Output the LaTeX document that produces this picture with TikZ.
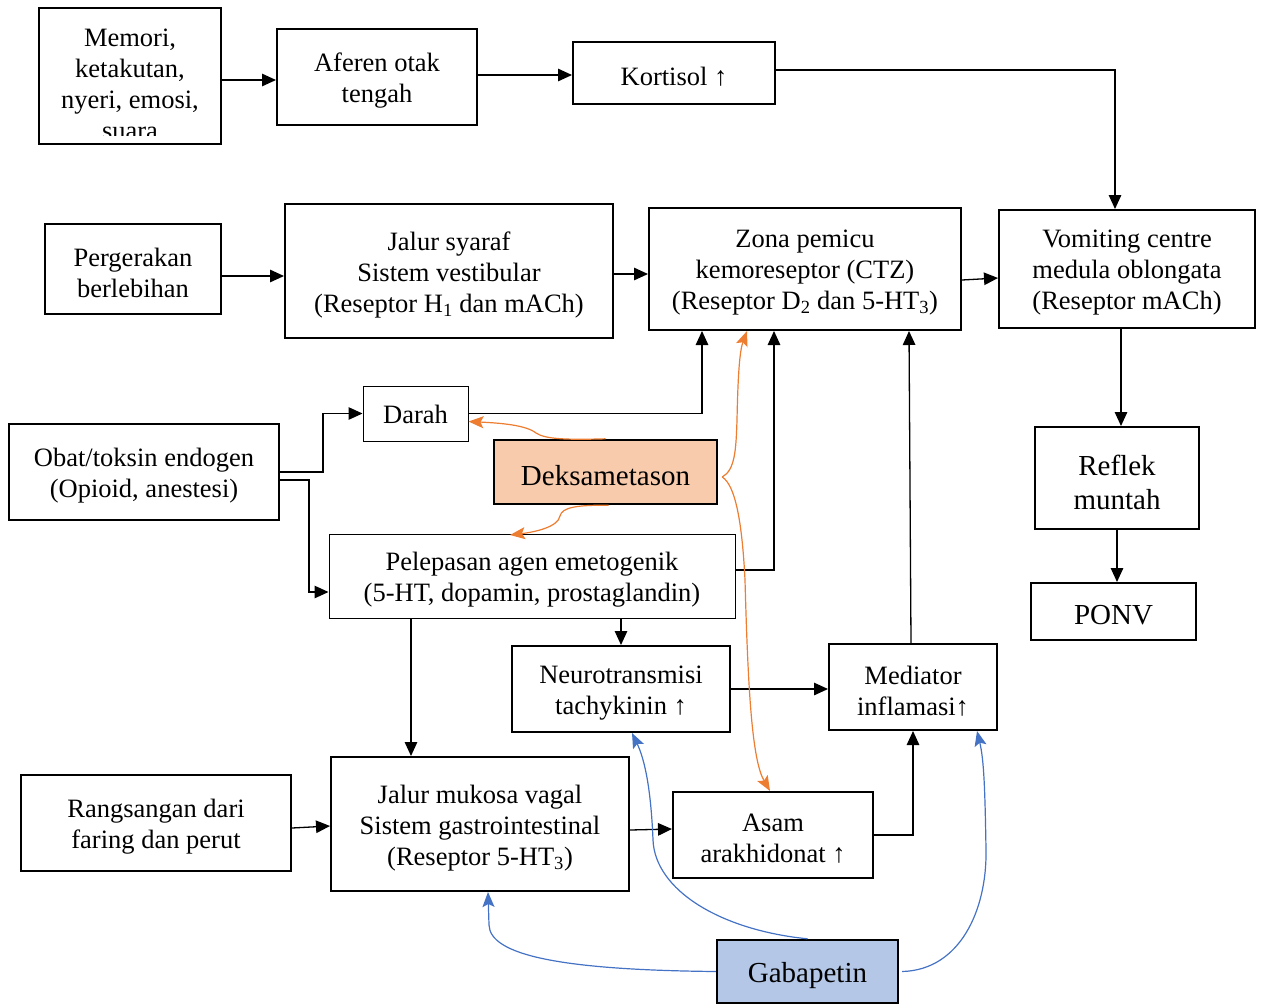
\documentclass[tikz,border=0pt]{standalone}
\usepackage{fontspec}
\setmainfont{Liberation Serif}
\usetikzlibrary{arrows.meta}
\definecolor{dekfill}{HTML}{F8CBAD}
\definecolor{gabafill}{HTML}{B4C7E7}
\definecolor{dekline}{HTML}{ED7D31}
\definecolor{gabaline}{HTML}{4472C4}
\newcommand\fsnorm{\fontsize{26.5pt}{31pt}\selectfont}
\newcommand\fsbig{\fontsize{29pt}{34pt}\selectfont}
% box frame plus its centred label, set slightly below the centre
% #1 frame style, #2 label style, #3 name, #4 x, #5 y, #6 width, #7 height, #8 label
\newcommand\flowbox[8]{%
  \node[#1, minimum width=#6pt, minimum height=#7pt] (#3) at (#4,#5) {};
  \node[#2] (#3-txt) at ([yshift=-4pt]#3.center) {#8};}
\begin{document}
\begin{tikzpicture}[x=1pt,y=-1pt,
  box/.style={draw, line width=2pt, inner sep=0pt},
  thinbox/.style={box, line width=1pt},
  txt/.style={inner sep=0pt, align=center, font=\fsnorm},
  bigtxt/.style={txt, font=\fsbig},
  arr/.style={line width=1.3pt, -{Triangle[length=14pt,width=12.5pt]}},
  dekarr/.style={draw=dekline, line width=1.2pt, -{Stealth[length=15pt,width=12pt,inset=3pt]}},
  gabaarr/.style={draw=gabaline, line width=1.2pt, -{Stealth[length=15pt,width=12pt,inset=3pt]}}]
\useasboundingbox (0,0) rectangle (1265,1004);

% --- boxes ---
\node[box, minimum width=182pt, minimum height=136pt] (memori) at (130,76) {};
\begin{scope}
  \clip (memori.north west) rectangle ([yshift=10pt]memori.south east);
  \node[txt] (memori-txt) at ([yshift=-8pt]memori.center) {Memori,\\ketakutan,\\nyeri, emosi,\\suara};
\end{scope}
\flowbox{box}{txt}{afer}{377}{77}{200}{96}{Aferen otak\\tengah}
\flowbox{box}{txt}{kort}{674}{73}{202}{62}{Kortisol ↑}
\flowbox{box}{txt}{perg}{133}{269}{176}{90}{Pergerakan\\berlebihan}
\flowbox{box}{txt}{jal}{449}{271}{328}{134}{Jalur syaraf\\Sistem vestibular\\(Reseptor H\textsubscript{1} dan mACh)}
\flowbox{box}{txt}{zona}{805}{269}{312}{122}{Zona pemicu\\kemoreseptor (CTZ)\\(Reseptor D\textsubscript{2} dan 5-HT\textsubscript{3})}
\flowbox{box}{txt}{vom}{1127}{269}{256}{118}{Vomiting centre\\medula oblongata\\(Reseptor mACh)}
\node[thinbox, minimum width=105pt, minimum height=55pt] (darah) at (415.5,413.5) {};
\node[txt] (darah-txt) at ([yshift=-1pt]darah.center) {Darah};
\flowbox{box}{txt}{obat}{144}{472}{270}{96}{Obat/toksin endogen\\(Opioid, anestesi)}
\flowbox{box, fill=dekfill, line width=2.4pt}{bigtxt}{dek}{605.5}{472}{223}{64}{Deksametason}
\flowbox{thinbox}{txt}{pel}{532}{576}{406}{84}{Pelepasan agen emetogenik\\(5-HT, dopamin, prostaglandin)}
\flowbox{box}{txt}{neuro}{621}{689}{218}{86}{Neurotransmisi\\tachykinin ↑}
\flowbox{box}{txt}{med}{913}{687}{168}{86}{Mediator\\inflamasi↑}
\flowbox{box}{bigtxt}{reflek}{1117}{478}{164}{102}{Reflek\\muntah}
\flowbox{box}{bigtxt}{ponv}{1113.5}{611.5}{165}{57}{PONV}
\flowbox{box}{txt}{rang}{156}{823}{270}{96}{Rangsangan dari\\faring dan perut}
\flowbox{box}{txt}{muk}{480}{824}{298}{134}{Jalur mukosa vagal\\Sistem gastrointestinal\\(Reseptor 5-HT\textsubscript{3})}
\flowbox{box}{txt}{asam}{773}{835}{200}{86}{Asam\\arakhidonat ↑}
\flowbox{box, fill=gabafill, line width=2.4pt}{bigtxt}{gaba}{807.5}{971.5}{181}{63}{Gabapetin}

% --- helper points on box edges ---
\coordinate (v1) at ([xshift=-6pt]vom.south);
\coordinate (o1) at ([xshift=43pt]obat.east);
\coordinate (p2) at ([xshift=-69pt]muk.north);

% --- black connectors ---
\draw[arr] ([yshift=-4pt]memori.east) -- ([yshift=-4pt]memori.east -| afer.west);
\draw[arr] ([yshift=2pt]afer.east) -- ([yshift=2pt]afer.east -| kort.west);
\draw[arr] ([yshift=3pt]kort.east) -| ([xshift=-12pt]vom.north);
\draw[arr] ([yshift=-7pt]perg.east) -- ([yshift=-7pt]perg.east -| jal.west);
\draw[arr] ([yshift=-3pt]jal.east) -- ([yshift=-3pt]jal.east -| zona.west);
\draw[arr] ([yshift=-11pt]zona.east) -- ([yshift=-9pt]vom.west);
\draw[arr] (v1) -- (v1 |- reflek.north);
\draw[arr] (reflek.south) -- (reflek.south |- ponv.north);
\draw[arr] (obat.east) -- (o1) |- (darah.west);
\draw[arr] ([yshift=-8pt]obat.east) -- ++(29pt,0pt) |- ([yshift=-16pt]pel.west);
\draw[arr] (darah.east) -| ([xshift=-103pt]zona.south);
\draw[arr] ([yshift=6pt]pel.east) -| ([xshift=-31pt]zona.south);
\draw[arr] ([xshift=-2pt]med.north) -- ([xshift=104pt]zona.south);
\draw[arr] (neuro.north |- pel.south) -- (neuro.north);
\draw[arr] (p2 |- pel.south) -- (p2);
\draw[arr] (neuro.east) -- (neuro.east -| med.west);
\draw[arr] ([yshift=-5pt]rang.east) -- ([yshift=-2pt]muk.west);
\draw[arr] ([yshift=-6pt]muk.east) -- ([yshift=6pt]asam.west);
\draw[arr] (asam.east) -| (med.south);

% --- Deksametason actions ---
\draw[dekarr] (dek.north) .. controls (565,440) and (545,439) .. (536,433)
  .. controls (526,425) and (500,423) .. ([yshift=-8pt]darah.east);
\draw[dekarr] ([xshift=3pt]dek.south) .. controls (578,505) and (562,507) .. (560,516)
  .. controls (558,527) and (535,532) .. (510,535);
\draw[dekarr] ([xshift=4pt,yshift=-5pt]dek.east) .. controls (735,470) and (736,450) .. (737,420)
  .. controls (738,370) and (740,350) .. ([xshift=-58pt]zona.south);
\draw[dekarr] ([xshift=4pt,yshift=-5pt]dek.east) .. controls (735,485) and (742,520) .. (745,580)
  .. controls (748,690) and (752,760) .. ([xshift=-3pt]asam.north);

% --- Gabapetin actions ---
\draw[gabaarr] (gaba.north) .. controls (720,930) and (655,890) .. (653,840)
  .. controls (651,790) and (645,760) .. ([xshift=11pt]neuro.south);
\draw[gabaarr] (gaba.west) .. controls (560,970) and (490,955) .. (489,925)
  -- ([xshift=8pt]muk.south);
\draw[gabaarr] ([xshift=3pt]gaba.east) .. controls (960,970) and (987,910) .. (986,850)
  .. controls (985,790) and (984,760) .. ([xshift=64pt]med.south);
\end{tikzpicture}
\end{document}
